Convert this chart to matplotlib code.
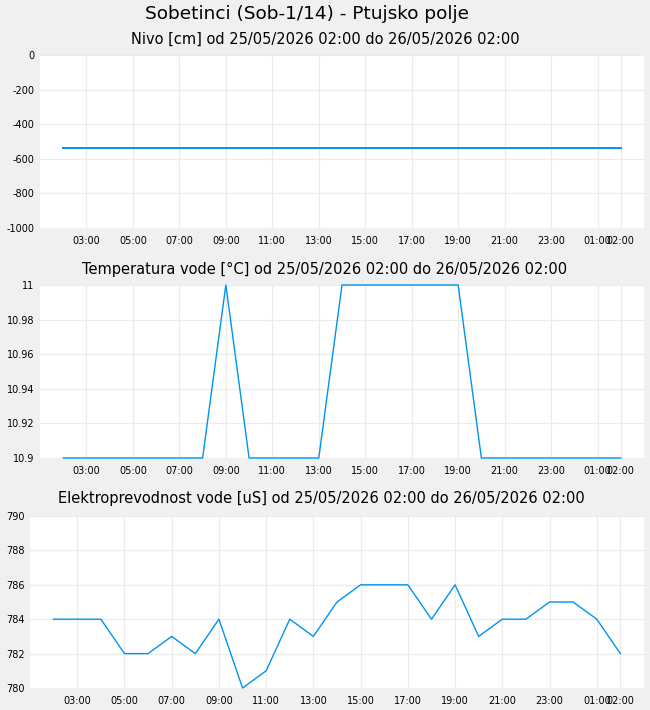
import datetime as dt
import matplotlib
matplotlib.use("Agg")
import matplotlib.pyplot as plt
import matplotlib.dates as mdates
from matplotlib.ticker import MultipleLocator

plt.rcParams['font.family'] = ['DejaVu Sans']

main_title = "Sobetinci (Sob-1/14) - Ptujsko polje"
titles = [
    "Nivo [cm] od 25/05/2026 02:00 do 26/05/2026 02:00",
    "Temperatura vode [°C] od 25/05/2026 02:00 do 26/05/2026 02:00",
    "Elektroprevodnost vode [uS] od 25/05/2026 02:00 do 26/05/2026 02:00",
]

start = dt.datetime(2026, 5, 25, 2, 0)
times = [start + dt.timedelta(hours=h) for h in range(25)]

nivo = [-538] * 25
temperatura = [10.9, 10.9, 10.9, 10.9, 10.9, 10.9, 10.9, 11.0, 10.9, 10.9,
               10.9, 10.9, 11.0, 11.0, 11.0, 11.0, 11.0, 11.0, 10.9, 10.9,
               10.9, 10.9, 10.9, 10.9, 10.9]
prevodnost = [784, 784, 784, 782, 782, 783, 782, 784, 780, 781,
              784, 783, 785, 786, 786, 786, 784, 786, 783, 784,
              784, 785, 785, 784, 782]

series = [nivo, temperatura, prevodnost]
ylims = [(-1000, 0), (10.9, 11.0), (780, 790)]
ysteps = [200, 0.02, 2]

W, H = 650, 710
fig = plt.figure(figsize=(W / 100, H / 100), dpi=100, facecolor='#f0f0f0')

# axes boxes in pixels: left, top, right, bottom
boxes = [(40, 55, 644, 228), (40, 285, 644, 458), (30, 516, 644, 688)]
title_y = [39, 269, 499]
title_x = [325, 325, 321]

line_color = '#0094ec'
grid_color = '#ebebeb'

xt = times[1::2] + [times[-1]]
xmin = start - dt.timedelta(hours=1)
xmax = times[-1] + dt.timedelta(hours=1)

fig.text(307 / W, 1 - 14 / H, main_title, ha='center', va='center', fontsize=13.3)

for i, (vals, box) in enumerate(zip(series, boxes)):
    l, t, r, b = box
    ax = fig.add_axes([l / W, 1 - b / H, (r - l) / W, (b - t) / H])
    ax.set_facecolor('white')
    ax.plot(times, vals, color=line_color, lw=1.4 if i == 0 else 1.0, clip_on=False)
    ax.set_xlim(xmin, xmax)
    ax.set_ylim(*ylims[i])
    ax.yaxis.set_major_locator(MultipleLocator(ysteps[i]))
    ax.yaxis.set_major_formatter(plt.FuncFormatter(lambda v, p: f"{v:g}"))
    ax.set_xticks(xt)
    ax.xaxis.set_major_formatter(mdates.DateFormatter('%H:%M'))
    for s in ax.spines.values():
        s.set_visible(False)
    ax.tick_params(axis='both', length=0, labelsize=7, pad=4)
    ax.tick_params(axis='x', pad=6)
    ax.grid(True, color=grid_color, lw=0.9)
    ax.set_axisbelow(True)
    fig.text(title_x[i] / W, 1 - title_y[i] / H, titles[i], ha='center', va='center', fontsize=10.5)

fig.savefig('out.png', dpi=100, facecolor=fig.get_facecolor())
